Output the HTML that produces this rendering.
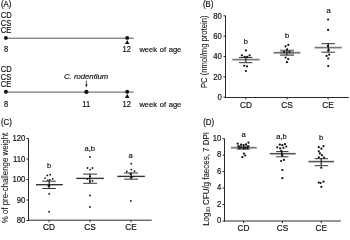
<!DOCTYPE html>
<html><head><meta charset="utf-8"><style>
html,body{margin:0;padding:0;background:#fff;width:350px;height:232px;overflow:hidden}
svg{display:block;-webkit-font-smoothing:antialiased;will-change:transform}
text{font-family:"Liberation Sans", sans-serif;fill:#111;stroke:#111;stroke-width:0.18px} text.r{stroke-width:0.06px}
</style></head><body>
<svg width="350" height="232" viewBox="0 0 350 232">
<text transform="translate(0.9 6.8) scale(0.95 1)" text-anchor="start" font-size="8.3" >(A)</text>
<text transform="translate(0.8 18.2) scale(0.92 1)" text-anchor="start" font-size="8.2" >CD</text>
<text transform="translate(0.8 25.7) scale(0.92 1)" text-anchor="start" font-size="8.2" >CS</text>
<text transform="translate(0.8 33.2) scale(0.92 1)" text-anchor="start" font-size="8.2" >CE</text>
<line x1="5.9" y1="38.2" x2="133.7" y2="38.2" stroke="#444" stroke-width="0.9"/>
<circle cx="5.9" cy="37.9" r="1.95" fill="#111"/>
<circle cx="127.2" cy="37.9" r="1.95" fill="#111"/>
<polygon points="127.2,39.9 129.4,44.0 125.0,44.0" fill="#111"/>
<text transform="translate(6.0 52.1) scale(0.92 1)" text-anchor="middle" font-size="8.2" >8</text>
<text transform="translate(126.7 52.1) scale(0.92 1)" text-anchor="middle" font-size="8.2" >12</text>
<text transform="translate(139.4 51.9) scale(0.93 1)" text-anchor="start" font-size="8.1" word-spacing="0.7">week of age</text>
<text transform="translate(0.8 72.2) scale(0.92 1)" text-anchor="start" font-size="8.2" >CD</text>
<text transform="translate(0.8 79.7) scale(0.92 1)" text-anchor="start" font-size="8.2" >CS</text>
<text transform="translate(0.8 87.2) scale(0.92 1)" text-anchor="start" font-size="8.2" >CE</text>
<line x1="5.9" y1="92.1" x2="133.7" y2="92.1" stroke="#444" stroke-width="0.9"/>
<circle cx="5.9" cy="91.8" r="1.95" fill="#111"/>
<circle cx="127.2" cy="91.8" r="1.95" fill="#111"/>
<polygon points="127.2,93.8 129.4,97.9 125.0,97.9" fill="#111"/>
<text transform="translate(6.0 106.7) scale(0.92 1)" text-anchor="middle" font-size="8.2" >8</text>
<text transform="translate(126.7 106.7) scale(0.92 1)" text-anchor="middle" font-size="8.2" >12</text>
<text transform="translate(139.4 106.5) scale(0.93 1)" text-anchor="start" font-size="8.1" word-spacing="0.7">week of age</text>
<circle cx="86.4" cy="91.9" r="2.15" fill="#111"/>
<text transform="translate(86.2 106.7) scale(0.92 1)" text-anchor="middle" font-size="8.2" >11</text>
<text transform="translate(64.0 79.4) scale(0.98 1)" text-anchor="start" font-size="7.9" font-style="italic">C. rodentium</text>
<line x1="86.4" y1="80.5" x2="86.4" y2="86.0" stroke="#333" stroke-width="0.8"/>
<polygon points="86.4,87.2 85.1,84.4 87.7,84.4" fill="#222"/>
<text transform="translate(202.9 6.8) scale(0.95 1)" text-anchor="start" font-size="8.3" >(B)</text>
<line x1="225.5" y1="15.84" x2="225.5" y2="98.0" stroke="#2a2a2a" stroke-width="1.0"/>
<line x1="225.0" y1="97.5" x2="348.8" y2="97.5" stroke="#2a2a2a" stroke-width="1.0"/>
<line x1="223.5" y1="97.2" x2="225.5" y2="97.2" stroke="#222" stroke-width="1.0"/>
<text transform="translate(221.8 100) scale(0.93 1)" text-anchor="end" font-size="8.3" >0</text>
<line x1="223.5" y1="76.86" x2="225.5" y2="76.86" stroke="#222" stroke-width="1.0"/>
<text transform="translate(221.8 80) scale(0.93 1)" text-anchor="end" font-size="8.3" >20</text>
<line x1="223.5" y1="56.52" x2="225.5" y2="56.52" stroke="#222" stroke-width="1.0"/>
<text transform="translate(221.8 59) scale(0.93 1)" text-anchor="end" font-size="8.3" >40</text>
<line x1="223.5" y1="36.18" x2="225.5" y2="36.18" stroke="#222" stroke-width="1.0"/>
<text transform="translate(221.8 39) scale(0.93 1)" text-anchor="end" font-size="8.3" >60</text>
<line x1="223.5" y1="15.84" x2="225.5" y2="15.84" stroke="#222" stroke-width="1.0"/>
<text transform="translate(221.8 19) scale(0.93 1)" text-anchor="end" font-size="8.3" >80</text>
<line x1="245.9" y1="97.5" x2="245.9" y2="99.5" stroke="#222" stroke-width="1.0"/>
<text transform="translate(245.9 107.5) scale(1.0 1)" text-anchor="middle" font-size="8.3" >CD</text>
<line x1="287.1" y1="97.5" x2="287.1" y2="99.5" stroke="#222" stroke-width="1.0"/>
<text transform="translate(287.1 107.5) scale(1.0 1)" text-anchor="middle" font-size="8.3" >CS</text>
<line x1="328.1" y1="97.5" x2="328.1" y2="99.5" stroke="#222" stroke-width="1.0"/>
<text transform="translate(328.1 107.5) scale(1.0 1)" text-anchor="middle" font-size="8.3" >CE</text>
<line x1="232.3" y1="59.6" x2="259.6" y2="59.6" stroke="#777" stroke-width="1.7"/>
<line x1="239.0" y1="57.45" x2="252.4" y2="57.45" stroke="#333" stroke-width="1.0"/>
<line x1="239.0" y1="62.7" x2="252.4" y2="62.7" stroke="#333" stroke-width="1.0"/>
<line x1="245.9" y1="57.05" x2="245.9" y2="62.3" stroke="#222" stroke-width="1.2"/>
<circle cx="245.9" cy="50.4" r="1.1" fill="#111"/>
<circle cx="241.9" cy="55.3" r="1.1" fill="#111"/>
<circle cx="249.6" cy="55.3" r="1.1" fill="#111"/>
<circle cx="244.6" cy="56.8" r="1.1" fill="#111"/>
<circle cx="247.2" cy="56.8" r="1.1" fill="#111"/>
<circle cx="244.2" cy="65.8" r="1.1" fill="#111"/>
<circle cx="247" cy="66.4" r="1.1" fill="#111"/>
<circle cx="245.9" cy="71" r="1.1" fill="#111"/>
<rect x="280.1" y="50.2" width="13.9" height="5.1" fill="#aaa"/>
<line x1="273.5" y1="52.7" x2="300.4" y2="52.7" stroke="#777" stroke-width="1.8"/>
<line x1="280.1" y1="50.2" x2="294.0" y2="50.2" stroke="#666" stroke-width="1.0"/>
<line x1="280.1" y1="55.3" x2="294.0" y2="55.3" stroke="#666" stroke-width="1.0"/>
<line x1="286.9" y1="50.2" x2="286.9" y2="55.3" stroke="#222" stroke-width="1.2"/>
<circle cx="288.3" cy="44.9" r="1.1" fill="#111"/>
<circle cx="285.6" cy="46.4" r="1.1" fill="#111"/>
<circle cx="287.1" cy="49.4" r="1.1" fill="#111"/>
<circle cx="284.0" cy="51.9" r="1.1" fill="#111"/>
<circle cx="289.5" cy="51.9" r="1.1" fill="#111"/>
<circle cx="285.6" cy="57.5" r="1.1" fill="#111"/>
<circle cx="288.2" cy="59.1" r="1.1" fill="#111"/>
<circle cx="286.9" cy="62.2" r="1.1" fill="#111"/>
<line x1="314.7" y1="47.6" x2="341.8" y2="47.6" stroke="#777" stroke-width="1.7"/>
<line x1="321.4" y1="43.7" x2="334.8" y2="43.7" stroke="#333" stroke-width="1.0"/>
<line x1="321.4" y1="52.2" x2="334.8" y2="52.2" stroke="#333" stroke-width="1.0"/>
<line x1="328.3" y1="43.3" x2="328.3" y2="51.8" stroke="#222" stroke-width="1.2"/>
<circle cx="328.1" cy="19.5" r="1.1" fill="#111"/>
<circle cx="328.1" cy="29.9" r="1.1" fill="#111"/>
<circle cx="327.9" cy="45.9" r="1.1" fill="#111"/>
<circle cx="328.8" cy="49.8" r="1.1" fill="#111"/>
<circle cx="328.3" cy="50.6" r="1.1" fill="#111"/>
<circle cx="329.2" cy="54.7" r="1.1" fill="#111"/>
<circle cx="326.6" cy="55.9" r="1.1" fill="#111"/>
<circle cx="328.2" cy="58.5" r="1.1" fill="#111"/>
<circle cx="328.2" cy="66.1" r="1.1" fill="#111"/>
<text transform="translate(245.8 44.4) scale(0.96 1)" text-anchor="middle" font-size="7.9" >b</text>
<text transform="translate(287.0 37.7) scale(0.96 1)" text-anchor="middle" font-size="7.9" >b</text>
<text transform="translate(328.6 13.1) scale(0.96 1)" text-anchor="middle" font-size="7.9" >a</text>
<text class="r" x="0" y="0" text-anchor="middle" font-size="8.3" transform="translate(207.2 51.8) rotate(-90) scale(0.92 1)">PC (nmol/mg protein)</text>
<text transform="translate(0.9 125.2) scale(0.95 1)" text-anchor="start" font-size="8.3" >(C)</text>
<line x1="28.5" y1="138.5" x2="28.5" y2="220.7" stroke="#2a2a2a" stroke-width="1.0"/>
<line x1="28.0" y1="220.2" x2="151.8" y2="220.2" stroke="#2a2a2a" stroke-width="1.0"/>
<line x1="26.5" y1="220.5" x2="28.5" y2="220.5" stroke="#222" stroke-width="1.0"/>
<text transform="translate(25.4 223) scale(0.93 1)" text-anchor="end" font-size="8.3" >80</text>
<line x1="26.5" y1="200.0" x2="28.5" y2="200.0" stroke="#222" stroke-width="1.0"/>
<text transform="translate(25.4 203) scale(0.93 1)" text-anchor="end" font-size="8.3" >90</text>
<line x1="26.5" y1="179.5" x2="28.5" y2="179.5" stroke="#222" stroke-width="1.0"/>
<text transform="translate(25.4 182) scale(0.93 1)" text-anchor="end" font-size="8.3" >100</text>
<line x1="26.5" y1="159.0" x2="28.5" y2="159.0" stroke="#222" stroke-width="1.0"/>
<text transform="translate(25.4 162) scale(0.93 1)" text-anchor="end" font-size="8.3" >110</text>
<line x1="26.5" y1="138.5" x2="28.5" y2="138.5" stroke="#222" stroke-width="1.0"/>
<text transform="translate(25.4 141) scale(0.93 1)" text-anchor="end" font-size="8.3" >120</text>
<line x1="49.1" y1="220.2" x2="49.1" y2="222.2" stroke="#222" stroke-width="1.0"/>
<text transform="translate(49.1 230.2) scale(1.0 1)" text-anchor="middle" font-size="8.3" >CD</text>
<line x1="90.0" y1="220.2" x2="90.0" y2="222.2" stroke="#222" stroke-width="1.0"/>
<text transform="translate(90.0 230.2) scale(1.0 1)" text-anchor="middle" font-size="8.3" >CS</text>
<line x1="131.0" y1="220.2" x2="131.0" y2="222.2" stroke="#222" stroke-width="1.0"/>
<text transform="translate(131.0 230.2) scale(1.0 1)" text-anchor="middle" font-size="8.3" >CE</text>
<line x1="36.0" y1="184.7" x2="62.8" y2="184.7" stroke="#333" stroke-width="1.4"/>
<line x1="42.3" y1="181.2" x2="55.8" y2="181.2" stroke="#333" stroke-width="1.0"/>
<line x1="42.3" y1="188.5" x2="55.8" y2="188.5" stroke="#333" stroke-width="1.0"/>
<line x1="49.2" y1="180.8" x2="49.2" y2="188.1" stroke="#222" stroke-width="1.2"/>
<circle cx="47.3" cy="175.4" r="0.9" fill="#111"/>
<circle cx="50.2" cy="174.7" r="0.9" fill="#111"/>
<circle cx="45.1" cy="178.1" r="0.9" fill="#111"/>
<circle cx="52.7" cy="178.8" r="0.9" fill="#111"/>
<circle cx="47.9" cy="180.1" r="0.9" fill="#111"/>
<circle cx="49.9" cy="179.8" r="0.9" fill="#111"/>
<circle cx="48.4" cy="186" r="0.9" fill="#111"/>
<circle cx="49.4" cy="185.5" r="0.9" fill="#111"/>
<circle cx="49.2" cy="193.9" r="0.9" fill="#111"/>
<circle cx="49.1" cy="211.7" r="0.9" fill="#111"/>
<line x1="76.3" y1="178.4" x2="103.9" y2="178.4" stroke="#333" stroke-width="1.4"/>
<line x1="83.2" y1="174.1" x2="97.0" y2="174.1" stroke="#333" stroke-width="1.0"/>
<line x1="83.2" y1="183.3" x2="97.0" y2="183.3" stroke="#333" stroke-width="1.0"/>
<line x1="89.9" y1="173.7" x2="89.9" y2="182.9" stroke="#222" stroke-width="1.2"/>
<circle cx="89.9" cy="157" r="0.9" fill="#111"/>
<circle cx="87.5" cy="168" r="0.9" fill="#111"/>
<circle cx="92.5" cy="168" r="0.9" fill="#111"/>
<circle cx="90.2" cy="169.6" r="0.9" fill="#111"/>
<circle cx="90.2" cy="176.4" r="0.9" fill="#111"/>
<circle cx="87.5" cy="179.1" r="0.9" fill="#111"/>
<circle cx="89.9" cy="181.4" r="0.9" fill="#111"/>
<circle cx="92.5" cy="180.9" r="0.9" fill="#111"/>
<circle cx="89.9" cy="195.5" r="0.9" fill="#111"/>
<circle cx="89.9" cy="207" r="0.9" fill="#111"/>
<line x1="117.3" y1="176.4" x2="144.9" y2="176.4" stroke="#333" stroke-width="1.4"/>
<line x1="124.2" y1="173.0" x2="138.0" y2="173.0" stroke="#333" stroke-width="1.0"/>
<line x1="124.2" y1="179.2" x2="138.0" y2="179.2" stroke="#333" stroke-width="1.0"/>
<line x1="131.2" y1="172.6" x2="131.2" y2="178.8" stroke="#222" stroke-width="1.2"/>
<circle cx="131.2" cy="163.7" r="0.9" fill="#111"/>
<circle cx="131.2" cy="169.6" r="0.9" fill="#111"/>
<circle cx="126.8" cy="171.4" r="0.9" fill="#111"/>
<circle cx="134.5" cy="171.2" r="0.9" fill="#111"/>
<circle cx="130.5" cy="174" r="0.9" fill="#111"/>
<circle cx="132" cy="177" r="0.9" fill="#111"/>
<circle cx="130.8" cy="177.8" r="0.9" fill="#111"/>
<circle cx="130.8" cy="200.9" r="0.9" fill="#111"/>
<text transform="translate(49.2 168.2) scale(0.96 1)" text-anchor="middle" font-size="7.9" >b</text>
<text transform="translate(89.8 151.1) scale(0.96 1)" text-anchor="middle" font-size="7.9" >a,b</text>
<text transform="translate(130.6 157.7) scale(0.96 1)" text-anchor="middle" font-size="7.9" >a</text>
<text class="r" x="0" y="0" text-anchor="middle" font-size="8.3" transform="translate(7.9 178.0) rotate(-90) scale(0.95 1)">% of pre-challenge weight</text>
<text transform="translate(203.2 124.6) scale(0.95 1)" text-anchor="start" font-size="8.3" >(D)</text>
<line x1="224.5" y1="138.6" x2="224.5" y2="221.5" stroke="#2a2a2a" stroke-width="1.0"/>
<line x1="224.0" y1="221.0" x2="340.9" y2="221.0" stroke="#2a2a2a" stroke-width="1.0"/>
<line x1="222.5" y1="221.0" x2="224.5" y2="221.0" stroke="#222" stroke-width="1.0"/>
<text transform="translate(221.3 223) scale(0.93 1)" text-anchor="end" font-size="8.3" >0</text>
<line x1="222.5" y1="204.52" x2="224.5" y2="204.52" stroke="#222" stroke-width="1.0"/>
<text transform="translate(221.3 207) scale(0.93 1)" text-anchor="end" font-size="8.3" >2</text>
<line x1="222.5" y1="188.04" x2="224.5" y2="188.04" stroke="#222" stroke-width="1.0"/>
<text transform="translate(221.3 190) scale(0.93 1)" text-anchor="end" font-size="8.3" >4</text>
<line x1="222.5" y1="171.56" x2="224.5" y2="171.56" stroke="#222" stroke-width="1.0"/>
<text transform="translate(221.3 174) scale(0.93 1)" text-anchor="end" font-size="8.3" >6</text>
<line x1="222.5" y1="155.08" x2="224.5" y2="155.08" stroke="#222" stroke-width="1.0"/>
<text transform="translate(221.3 157) scale(0.93 1)" text-anchor="end" font-size="8.3" >8</text>
<line x1="222.5" y1="138.6" x2="224.5" y2="138.6" stroke="#222" stroke-width="1.0"/>
<text transform="translate(221.3 141) scale(0.93 1)" text-anchor="end" font-size="8.3" >10</text>
<line x1="243.6" y1="221.0" x2="243.6" y2="223.0" stroke="#222" stroke-width="1.0"/>
<text transform="translate(243.6 231.0) scale(1.0 1)" text-anchor="middle" font-size="8.3" >CD</text>
<line x1="282.4" y1="221.0" x2="282.4" y2="223.0" stroke="#222" stroke-width="1.0"/>
<text transform="translate(282.4 231.0) scale(1.0 1)" text-anchor="middle" font-size="8.3" >CS</text>
<line x1="321.2" y1="221.0" x2="321.2" y2="223.0" stroke="#222" stroke-width="1.0"/>
<text transform="translate(321.2 231.0) scale(1.0 1)" text-anchor="middle" font-size="8.3" >CE</text>
<rect x="236.9" y="146.0" width="12.8" height="3.3" fill="#aaa"/>
<line x1="231.0" y1="147.7" x2="256.7" y2="147.7" stroke="#777" stroke-width="1.8"/>
<line x1="236.9" y1="146.0" x2="249.7" y2="146.0" stroke="#666" stroke-width="1.0"/>
<line x1="236.9" y1="149.3" x2="249.7" y2="149.3" stroke="#666" stroke-width="1.0"/>
<line x1="243.6" y1="146.0" x2="243.6" y2="149.3" stroke="#222" stroke-width="1.2"/>
<circle cx="237.7" cy="143.7" r="1.1" fill="#111"/>
<circle cx="241.1" cy="144.7" r="1.1" fill="#111"/>
<circle cx="243.6" cy="145" r="1.1" fill="#111"/>
<circle cx="246" cy="144.4" r="1.1" fill="#111"/>
<circle cx="248.5" cy="142.7" r="1.1" fill="#111"/>
<circle cx="238.7" cy="146.3" r="1.1" fill="#111"/>
<circle cx="248" cy="146.3" r="1.1" fill="#111"/>
<circle cx="241" cy="147.5" r="1.1" fill="#111"/>
<circle cx="245.5" cy="147.8" r="1.1" fill="#111"/>
<circle cx="239.2" cy="148" r="1.1" fill="#111"/>
<circle cx="243.6" cy="148.2" r="1.1" fill="#111"/>
<circle cx="247.6" cy="148" r="1.1" fill="#111"/>
<circle cx="243.9" cy="153.6" r="1.1" fill="#111"/>
<circle cx="245.2" cy="155.5" r="1.1" fill="#111"/>
<circle cx="242.4" cy="157.1" r="1.1" fill="#111"/>
<line x1="269.8" y1="153.7" x2="295.7" y2="153.7" stroke="#555" stroke-width="1.6"/>
<line x1="276.1" y1="151.6" x2="288.5" y2="151.6" stroke="#333" stroke-width="1.0"/>
<line x1="276.1" y1="156.8" x2="288.5" y2="156.8" stroke="#333" stroke-width="1.0"/>
<line x1="281.8" y1="151.2" x2="281.8" y2="156.4" stroke="#222" stroke-width="1.2"/>
<circle cx="279.8" cy="144.7" r="1.1" fill="#111"/>
<circle cx="282.3" cy="145.2" r="1.1" fill="#111"/>
<circle cx="284.9" cy="144.2" r="1.1" fill="#111"/>
<circle cx="277.2" cy="147.3" r="1.1" fill="#111"/>
<circle cx="280.1" cy="148.3" r="1.1" fill="#111"/>
<circle cx="283.4" cy="147.8" r="1.1" fill="#111"/>
<circle cx="286.3" cy="146.5" r="1.1" fill="#111"/>
<circle cx="281.3" cy="150.9" r="1.1" fill="#111"/>
<circle cx="281.8" cy="153.5" r="1.1" fill="#111"/>
<circle cx="282.3" cy="155.5" r="1.1" fill="#111"/>
<circle cx="281.1" cy="161" r="1.1" fill="#111"/>
<circle cx="283.9" cy="159.9" r="1.1" fill="#111"/>
<circle cx="282.3" cy="170" r="1.1" fill="#111"/>
<circle cx="282.3" cy="178.2" r="1.1" fill="#111"/>
<line x1="308.4" y1="161.6" x2="334.0" y2="161.6" stroke="#555" stroke-width="1.6"/>
<line x1="314.7" y1="158.7" x2="328.1" y2="158.7" stroke="#333" stroke-width="1.0"/>
<line x1="314.7" y1="165.7" x2="328.1" y2="165.7" stroke="#333" stroke-width="1.0"/>
<line x1="321.2" y1="158.3" x2="321.2" y2="165.3" stroke="#222" stroke-width="1.2"/>
<circle cx="318.8" cy="147.2" r="1.1" fill="#111"/>
<circle cx="323.5" cy="146.1" r="1.1" fill="#111"/>
<circle cx="321.4" cy="148.7" r="1.1" fill="#111"/>
<circle cx="318.8" cy="151.3" r="1.1" fill="#111"/>
<circle cx="319.9" cy="153.4" r="1.1" fill="#111"/>
<circle cx="321.9" cy="155.2" r="1.1" fill="#111"/>
<circle cx="318.8" cy="157.3" r="1.1" fill="#111"/>
<circle cx="324" cy="157.5" r="1.1" fill="#111"/>
<circle cx="321.3" cy="167.7" r="1.1" fill="#111"/>
<circle cx="318.7" cy="182.6" r="1.1" fill="#111"/>
<circle cx="320.6" cy="183" r="1.1" fill="#111"/>
<circle cx="323.5" cy="181.7" r="1.1" fill="#111"/>
<circle cx="321.3" cy="186.8" r="1.1" fill="#111"/>
<text transform="translate(243.7 136.6) scale(0.96 1)" text-anchor="middle" font-size="7.9" >a</text>
<text transform="translate(281.5 138.7) scale(0.96 1)" text-anchor="middle" font-size="7.9" >a,b</text>
<text transform="translate(321.1 139.9) scale(0.96 1)" text-anchor="middle" font-size="7.9" >b</text>
<text class="r" x="0" y="0" text-anchor="middle" font-size="8.3" transform="translate(208.6 178.9) rotate(-90) scale(0.96 1)">Log<tspan font-size="5" dy="1.0">10</tspan><tspan dy="-1.0"> CFU/g faeces, 7 DPI</tspan></text>
</svg></body></html>
